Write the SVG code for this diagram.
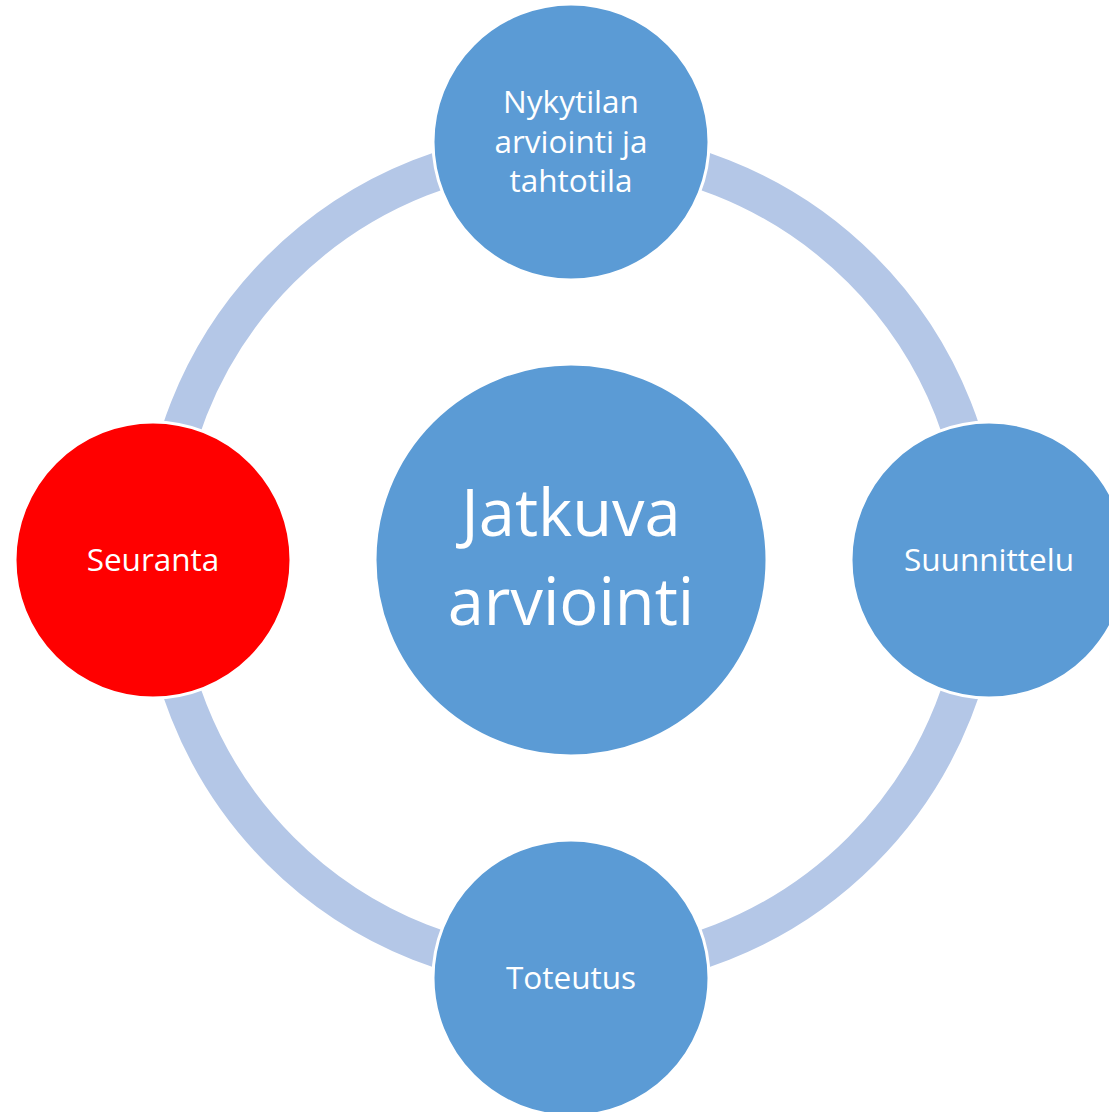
<svg xmlns="http://www.w3.org/2000/svg" width="1109" height="1112" viewBox="0 0 1109 1112">
<style>
.ring{fill:none;stroke:#b4c7e7;stroke-width:38}
.node{fill:#5b9bd5;stroke:#ffffff;stroke-width:3}
.red{fill:#ff0000}
.lbl{font-family:"Open Sans","Noto Sans",sans-serif;font-size:31.5px;fill:#ffffff;text-anchor:middle}
.big{font-family:"Open Sans","Noto Sans",sans-serif;font-size:65px;fill:#ffffff;text-anchor:middle}
</style>
<rect width="1109" height="1112" fill="#ffffff"/>
<g id="connectors">
<circle class="ring" cx="571" cy="560" r="411"/>
</g>
<g id="center">
<circle class="node" cx="571" cy="560" r="196"/>
<text class="big" x="571" y="536">Jatkuva</text>
<text class="big" x="571" y="625">arviointi</text>
</g>
<g id="top">
<circle class="node" cx="571" cy="142" r="138"/>
<text class="lbl" x="571" y="113">Nykytilan</text>
<text class="lbl" x="571" y="153">arviointi ja</text>
<text class="lbl" x="571" y="192">tahtotila</text>
</g>
<g id="right">
<circle class="node" cx="989" cy="560" r="138"/>
<text class="lbl" x="989" y="571">Suunnittelu</text>
</g>
<g id="bottom">
<circle class="node" cx="571" cy="978" r="138"/>
<text class="lbl" x="571" y="989">Toteutus</text>
</g>
<g id="left">
<circle class="node red" cx="153" cy="560" r="138"/>
<text class="lbl" x="153" y="571">Seuranta</text>
</g>
</svg>
